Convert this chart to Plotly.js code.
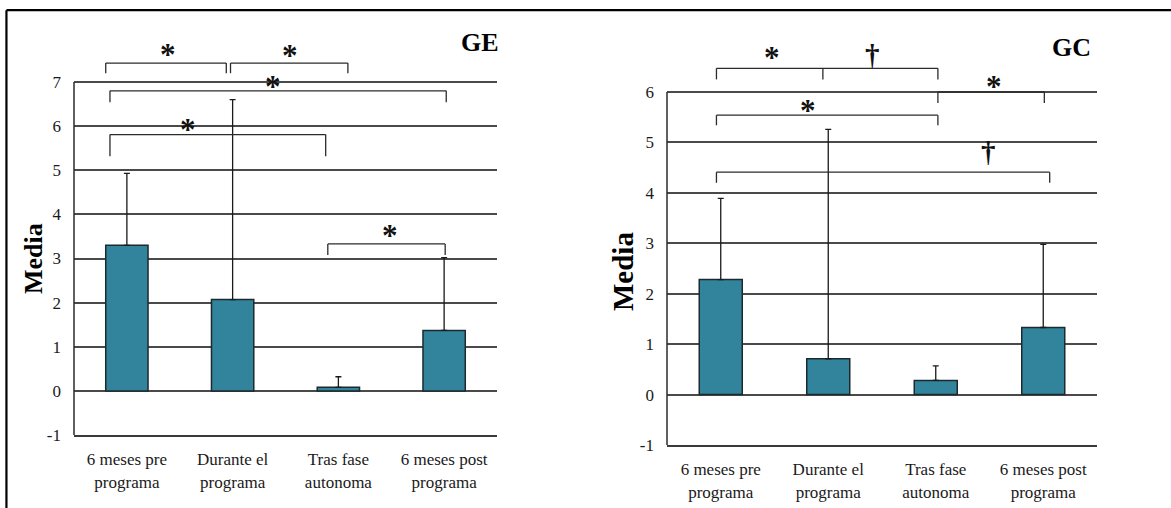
<!DOCTYPE html>
<html>
<head>
<meta charset="utf-8">
<script src="https://cdn.plot.ly/plotly-3.0.1.min.js"></script>
<style>
html,body{margin:0;padding:0;background:#fff;}
#chart{width:1171px;height:508px;}
</style>
</head>
<body>
<div id="chart"></div>
<script>
// ---- data ----
var categories = ["6 meses pre<br>programa", "Durante el<br>programa", "Tras fase<br>autonoma", "6 meses post<br>programa"];
var yTicksGE = [-1, 0, 1, 2, 3, 4, 5, 6, 7];
var yTickTextGE = ["-1", "0", "1", "2", "3", "4", "5", "6", "7"];
var yTicksGC = [-1, 0, 1, 2, 3, 4, 5, 6];
var yTickTextGC = ["-1", "0", "1", "2", "3", "4", "5", "6"];

var geMean = [3.30, 2.07, 0.08, 1.37];
var geSD   = [1.63, 4.53, 0.24, 1.65];
var gcMean = [2.28, 0.71, 0.28, 1.33];
var gcSD   = [1.61, 4.55, 0.29, 1.65];

// significance brackets (category index positions, value heights)
var geBrX0   = [-0.20, 0.98, -0.16, -0.16, 1.90];
var geBrX1   = [0.94, 2.09, 3.02, 1.88, 3.01];
var geBrY    = [7.43, 7.43, 6.80, 5.81, 3.33];
var geBrDrop = [7.20, 7.20, 6.54, 5.32, 3.08];
var geSymX   = [0.39, 1.54, 1.38, 0.575, 2.49];
var geSymY   = [7.69, 7.67, 6.96, 5.99, 3.58];
var geSym    = ["*", "*", "*", "*", "*"];

var gcBrX0   = [-0.04, 2.02, -0.04, -0.04];
var gcBrX1   = [2.02, 3.01, 2.02, 3.06];
var gcBrY    = [6.47, 6.00, 5.54, 4.41];
var gcBrDrop = [6.25, 5.78, 5.34, 4.20];
var gcBrMid  = [0.95, null, null, null];
var gcSymX   = [0.48, 1.41, 2.54, 0.81, 2.49];
var gcSymY   = [6.75, 6.71, 6.16, 5.70, 4.79];
var gcSym    = ["*", "†", "*", "*", "†"];

// ---- styling ----
var FONT = "Liberation Serif, Times New Roman, DejaVu Serif, serif";
var BAR = "#31849B";
var LINE = "#2b2b2b";

function zeros(n){ var a=[]; for(var i=0;i<n;i++) a.push(0); return a; }

function barTrace(mean, sd, xa, ya){
  return {
    type: "bar", x: categories, y: mean, xaxis: xa, yaxis: ya,
    width: 0.4,
    marker: {color: BAR, line: {color: "#1c2a2f", width: 1.5}},
    error_y: {type: "data", symmetric: false, array: sd, arrayminus: zeros(sd.length),
              color: "#1a1a1a", thickness: 1.3, width: 3},
    hoverinfo: "skip", showlegend: false
  };
}

var traces = [barTrace(geMean, geSD, "x", "y"), barTrace(gcMean, gcSD, "x2", "y2")];

var shapes = [];
function addBrackets(x0s, x1s, ys, drops, mids, xr, yr){
  for (var i=0;i<x0s.length;i++){
    var st = {type:"line", xref:xr, yref:yr, line:{color:LINE, width:1.3}, layer:"above"};
    shapes.push(Object.assign({}, st, {x0:x0s[i], x1:x1s[i], y0:ys[i], y1:ys[i]}));
    shapes.push(Object.assign({}, st, {x0:x0s[i], x1:x0s[i], y0:ys[i], y1:drops[i]}));
    shapes.push(Object.assign({}, st, {x0:x1s[i], x1:x1s[i], y0:ys[i], y1:drops[i]}));
    if (mids && mids[i] != null){
      shapes.push(Object.assign({}, st, {x0:mids[i], x1:mids[i], y0:ys[i], y1:drops[i]}));
    }
  }
}
addBrackets(geBrX0, geBrX1, geBrY, geBrDrop, null, "x", "y");
addBrackets(gcBrX0, gcBrX1, gcBrY, gcBrDrop, gcBrMid, "x2", "y2");

// y axis lines (only from -1 up to the top tick)
shapes.push({type:"line", xref:"x domain", yref:"y", x0:0, x1:0, y0:-1, y1:7, line:{color:LINE, width:1.5}});
shapes.push({type:"line", xref:"x2 domain", yref:"y2", x0:0, x1:0, y0:-1, y1:6, line:{color:LINE, width:1.5}});

// outer frame (top and left)
shapes.push({type:"line", xref:"paper", yref:"paper", x0:0.0055, x1:1, y0:0.98, y1:0.98, line:{color:"#000", width:2.2}});
shapes.push({type:"line", xref:"paper", yref:"paper", x0:0.0055, x1:0.0055, y0:0, y1:0.98, line:{color:"#000", width:2.2}});

var annotations = [];
function addSyms(xs, ys, syms, xr, yr){
  for (var i=0;i<xs.length;i++){
    var isStar = syms[i] === "*";
    annotations.push({
      xref:xr, yref:yr, x:xs[i], y:ys[i], text:"<b>"+syms[i]+"</b>", showarrow:false,
      xanchor:"center", yanchor:"middle", yshift: isStar ? -3 : 1,
      font:{family:FONT, size: isStar ? 31 : 29, color:"#111"}
    });
  }
}
addSyms(geSymX, geSymY, geSym, "x", "y");
addSyms(gcSymX, gcSymY, gcSym, "x2", "y2");

annotations.push({xref:"x domain", yref:"paper", x:1.01, y:1-43/508, text:"<b>GE</b>", showarrow:false,
  xanchor:"right", yanchor:"middle", font:{family:FONT, size:26, color:"#000"}});
annotations.push({xref:"x2 domain", yref:"paper", x:0.99, y:1-47/508, text:"<b>GC</b>", showarrow:false,
  xanchor:"right", yanchor:"middle", font:{family:FONT, size:26, color:"#000"}});

// y axis titles
annotations.push({xref:"paper", yref:"paper", x:33/1171, y:1-259/508, text:"<b>Media</b>", showarrow:false,
  textangle:-90, xanchor:"center", yanchor:"middle", font:{family:FONT, size:26, color:"#000"}});
annotations.push({xref:"paper", yref:"paper", x:623/1171, y:1-272/508, text:"<b>Media</b>", showarrow:false,
  textangle:-90, xanchor:"center", yanchor:"middle", font:{family:FONT, size:29, color:"#000"}});

var tickFont = {family:FONT, size:17, color:"#1a1a1a"};
var xCommon = {type:"category", showgrid:false, showline:true, linecolor:"#3a3a3a", linewidth:2,
  ticks:"", tickfont:tickFont, ticklabelstandoff:8, fixedrange:true, range:[-0.5, 3.5]};
var yCommon = {showgrid:true, gridcolor:"#4a4a4a", gridwidth:2, zeroline:false, showline:false,
  ticks:"", tickfont:tickFont, ticklabelstandoff:12, automargin:false, fixedrange:true, tickmode:"array"};

var layout = {
  width:1171, height:508,
  margin:{l:0, r:0, t:0, b:0},
  paper_bgcolor:"#fff", plot_bgcolor:"#fff",
  showlegend:false,
  xaxis: Object.assign({}, xCommon, {domain:[74/1171, 497/1171], anchor:"y"}),
  yaxis: Object.assign({}, yCommon, {domain:[1-435/508, 1-20/508], range:[-1, 8.406],
    tickvals:yTicksGE, ticktext:yTickTextGE, anchor:"x"}),
  xaxis2: Object.assign({}, xCommon, {domain:[667/1171, 1097/1171], anchor:"y2"}),
  yaxis2: Object.assign({}, yCommon, {domain:[1-445/508, 1-20/508], range:[-1, 7.428],
    tickvals:yTicksGC, ticktext:yTickTextGC, anchor:"x2"}),
  shapes: shapes,
  annotations: annotations
};

Plotly.newPlot("chart", traces, layout, {displayModeBar:false, staticPlot:true});
</script>
</body>
</html>
